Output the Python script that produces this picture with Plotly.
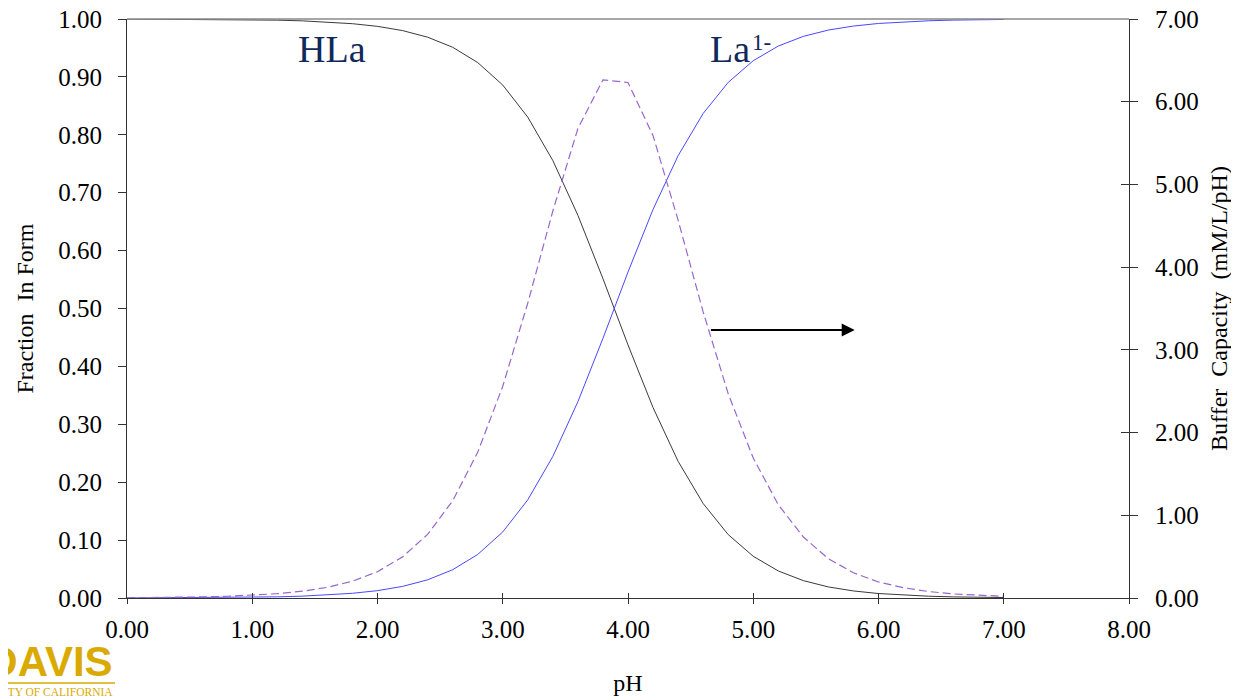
import plotly.graph_objects as go

ph = [0.0, 0.2, 0.4, 0.6, 0.8, 1.0, 1.2, 1.4, 1.6, 1.8, 2.0, 2.2, 2.4, 2.6, 2.8, 3.0,
      3.2, 3.4, 3.6, 3.8, 4.0, 4.2, 4.4, 4.6, 4.8, 5.0, 5.2, 5.4, 5.6, 5.8, 6.0,
      6.2, 6.4, 6.6, 6.8, 7.0]

frac_la = [0.0001, 0.0002, 0.0003, 0.0005, 0.0008, 0.0013, 0.0020, 0.0032, 0.0051,
           0.0081, 0.0127, 0.0200, 0.0314, 0.0488, 0.0752, 0.1141, 0.1696, 0.2445,
           0.3390, 0.4484, 0.5630, 0.6712, 0.7639, 0.8368, 0.8905, 0.9280, 0.9533,
           0.9700, 0.9809, 0.9878, 0.9923, 0.9951, 0.9969, 0.9981, 0.9988, 0.9992]

frac_hla = [0.9999, 0.9998, 0.9997, 0.9995, 0.9992, 0.9987, 0.9980, 0.9968, 0.9949,
            0.9919, 0.9873, 0.9800, 0.9686, 0.9512, 0.9248, 0.8859, 0.8304, 0.7555,
            0.6610, 0.5516, 0.4370, 0.3288, 0.2361, 0.1632, 0.1095, 0.0720, 0.0467,
            0.0300, 0.0191, 0.0122, 0.0077, 0.0049, 0.0031, 0.0019, 0.0012, 0.0008]

buffer_cap = [0.003, 0.005, 0.008, 0.013, 0.021, 0.033, 0.052, 0.082, 0.129, 0.203,
              0.318, 0.497, 0.769, 1.175, 1.761, 2.560, 3.567, 4.679, 5.676, 6.265,
              6.232, 5.590, 4.568, 3.459, 2.470, 1.692, 1.128, 0.737, 0.475, 0.305,
              0.194, 0.124, 0.078, 0.049, 0.031, 0.020]

x_ticks = [0, 1, 2, 3, 4, 5, 6, 7, 8]
y_ticks = [0, 0.1, 0.2, 0.3, 0.4, 0.5, 0.6, 0.7, 0.8, 0.9, 1.0]
y2_ticks = [0, 1, 2, 3, 4, 5, 6, 7]

FONT = "Liberation Serif, Times New Roman, serif"
GOLD = "#DAAA00"
NAVY = "#0F2A5A"

fig = go.Figure()
fig.add_trace(go.Scatter(x=ph, y=frac_hla, mode="lines", name="HLa",
                         line=dict(color="#3a3a3a", width=1)))
fig.add_trace(go.Scatter(x=ph, y=frac_la, mode="lines", name="La1-",
                         line=dict(color="#4848FF", width=1)))
fig.add_trace(go.Scatter(x=ph, y=buffer_cap, mode="lines", name="Buffer Capacity",
                         yaxis="y2", line=dict(color="#9966CC", width=1.2, dash="8px,4px")))

axis_common = dict(showgrid=False, zeroline=False, showline=True, linecolor="#333333",
                   linewidth=1.2, tickcolor="#333333", tickwidth=1,
                   ticklabeloverflow="allow",
                   tickfont=dict(family=FONT, size=25, color="black"))

fig.update_layout(
    width=1239, height=700,
    margin=dict(l=119, r=118, t=11, b=110, autoexpand=False),
    paper_bgcolor="white", plot_bgcolor="white",
    showlegend=False,
    font=dict(family=FONT, color="black"),
    xaxis=dict(range=[0, 8], tickvals=x_ticks, tickformat=".2f", ticks="outside", ticklen=5,
               ticklabelstandoff=4,
               title=dict(text="pH", font=dict(family=FONT, size=24), standoff=32),
               **axis_common),
    yaxis=dict(range=[0, 1], tickvals=y_ticks, tickformat=".2f", ticks="outside", ticklen=8,
               ticklabelstandoff=11,
               title=dict(text="Fraction  In Form", font=dict(family=FONT, size=24), standoff=17),
               **axis_common),
    yaxis2=dict(range=[0, 7], tickvals=y2_ticks, tickformat=".2f", ticks="outside", ticklen=8,
                ticklabelstandoff=12,
                overlaying="y", side="right",
                title=dict(text="Buffer  Capacity  (mM/L/pH)", font=dict(family=FONT, size=24), standoff=12),
                **axis_common),
    xaxis2=dict(overlaying="x", matches="x", range=[0, 8], tickvals=x_ticks, ticks="inside",
                ticklen=5, tickcolor="#333333", showticklabels=False, showline=False,
                showgrid=False, zeroline=False, side="bottom"),
    yaxis3=dict(overlaying="y", range=[0, 7], tickvals=y2_ticks, ticks="inside", side="right",
                ticklen=8, tickcolor="#333333", showticklabels=False, showline=False,
                showgrid=False, zeroline=False),
)

# invisible trace so the overlay tick axes are drawn
fig.add_trace(go.Scatter(x=[0], y=[0], xaxis="x2", yaxis="y3", mode="markers",
                         marker=dict(opacity=0), hoverinfo="skip", showlegend=False))

# top border
fig.add_shape(type="line", xref="paper", yref="paper", x0=0, x1=1, y0=1, y1=1,
              line=dict(color="#888888", width=1.5))

# species labels
fig.add_annotation(x=1.64, y=0.948, xref="x", yref="y", text="HLa", showarrow=False,
                   font=dict(family=FONT, size=38, color=NAVY))
fig.add_annotation(x=4.64, y=0.948, xref="x", yref="y", xanchor="left",
                   text="La", showarrow=False,
                   font=dict(family=FONT, size=38, color=NAVY))
fig.add_annotation(x=4.974, y=0.959, xref="x", yref="y", xanchor="left",
                   text="1-", showarrow=False,
                   font=dict(family=FONT, size=23, color=NAVY))

# arrow pointing to the right axis
fig.add_annotation(x=5.81, y=3.24, xref="x", yref="y2", ax=4.65, ay=3.24,
                   axref="x", ayref="y2", text="", showarrow=True,
                   arrowhead=2, arrowsize=1.3, arrowwidth=2, arrowcolor="black")

# UC Davis logo (cropped at the left edge)
fig.add_annotation(x=-0.012, y=-0.11, xref="paper", yref="paper", xanchor="right", yanchor="middle",
                   text="<b>UC DAVIS</b>", showarrow=False,
                   font=dict(family="Liberation Sans Narrow, Liberation Sans, Arial", size=42, color=GOLD))
fig.add_shape(type="line", xref="paper", yref="paper", x0=-0.13, x1=-0.012, y0=-0.147, y1=-0.147,
              line=dict(color=GOLD, width=1.5))
fig.add_annotation(x=-0.012, y=-0.162, xref="paper", yref="paper", xanchor="right", yanchor="middle",
                   text="UNIVERSITY OF CALIFORNIA", showarrow=False,
                   font=dict(family=FONT, size=11.5, color=GOLD))

fig.write_html("out.html")
